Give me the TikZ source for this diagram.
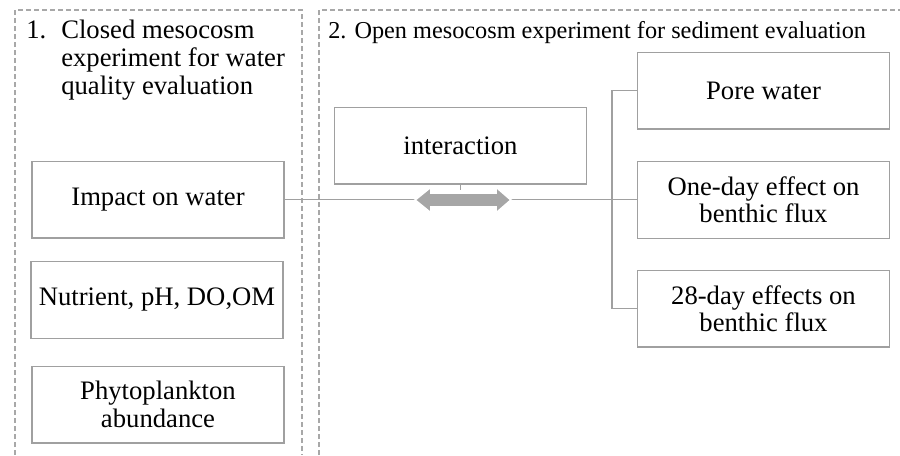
\documentclass[tikz,border=0pt]{standalone}
\usepackage{fontspec}
\setmainfont{Liberation Serif}
\definecolor{lg}{HTML}{A0A0A0}
\definecolor{dg}{HTML}{A8A8A8}
\definecolor{af}{HTML}{A6A6A6}
\begin{document}
\begin{tikzpicture}[x=0.75pt,y=-0.75pt,
  font=\fontsize{20}{20.5}\selectfont,
  box/.style={draw=lg,line width=1pt,fill=white,minimum width=189pt,minimum height=57.5pt,align=center,inner sep=2pt,text=black},
  conn/.style={draw=lg,line width=1.1pt},
  dashbox/.style={draw=dg,line width=0.8pt,dash pattern=on 3.5pt off 2.5pt},
  lbl/.style={anchor=base west,inner sep=0pt,text=black}]
\useasboundingbox[fill=white] (0,0) rectangle (900,455);
% dashed group frames
\draw[dashbox] (15,455) -- (15,10) -- (302,10) -- (302,455);
\draw[dashbox] (319,455) -- (319,10) -- (905,10);
% titles
\node[lbl] (n1) at (26,38) {1.};
\node[lbl] (t1a) at (61,38) {Closed mesocosm};
\node[lbl] (t1b) at (61,66) {experiment for water};
\node[lbl] (t1c) at (61,94) {quality evaluation};
\node[lbl,font=\fontsize{18.2}{20}\selectfont] (t2) at (328,38) {2. Open mesocosm experiment for sediment evaluation};
% boxes
\node[box] (impact) at (158,199.5) {Impact on water};
\node[box] (nutr) at (157,300) {Nutrient, pH, DO,OM};
\node[box] (phyto) at (158,404.5) {Phytoplankton\\abundance};
\node[box] (inter) at (460.5,145.5) {interaction};
\node[box] (pore) at (763.5,90.5) {Pore water};
\node[box] (oneday) at (763.5,200) {One-day effect on\\benthic flux};
\node[box] (d28) at (763.5,308.5) {28-day effects on\\benthic flux};
% connectors
\draw[conn] (impact.east) -- (oneday.west |- impact.east);
\coordinate (br) at (612,0);
\draw[conn] (pore.west) -- (br |- pore.west) -- (br |- d28.west) -- (d28.west);
% interaction arrow
\coordinate (ac) at (463,200);
\filldraw[fill=af,draw=white,line width=1.3pt,line join=miter]
  (415,200) -- (431,187) -- (431,193) -- (496,193) -- (496,187) -- (511,200)
  -- (496,213) -- (496,207) -- (431,207) -- (431,213) -- cycle;
\draw[conn,line width=0.8pt] (inter.south) -- (inter.south |- 0,190);
\end{tikzpicture}
\end{document}
